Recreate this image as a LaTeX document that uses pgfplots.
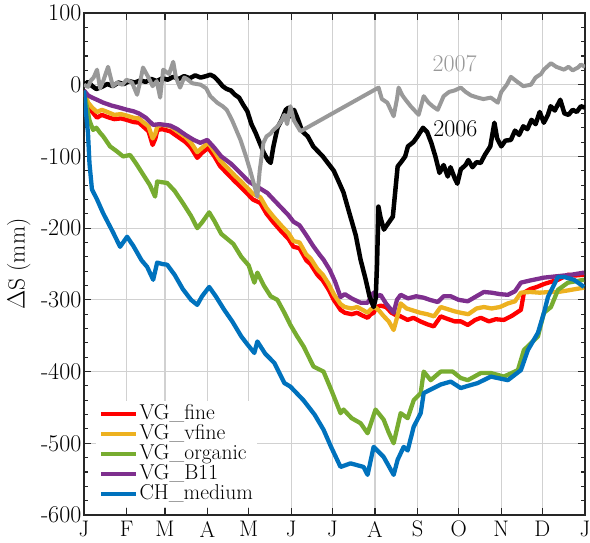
\documentclass[border=0pt]{standalone}
\usepackage{pgfplots}
\pgfplotsset{compat=1.18}
\definecolor{mRed}{rgb}{1,0,0}
\definecolor{mOrange}{rgb}{0.929,0.694,0.125}
\definecolor{mGreen}{rgb}{0.466,0.674,0.188}
\definecolor{mPurple}{rgb}{0.494,0.184,0.556}
\definecolor{mBlue}{rgb}{0,0.447,0.741}
\definecolor{mGray}{rgb}{0.6,0.6,0.6}
\definecolor{axc}{rgb}{0.15,0.15,0.15}
\begin{document}
\begin{tikzpicture}
\begin{axis}[
 scale only axis, width=501pt, height=502pt,
 xmin=0, xmax=365, ymin=-600, ymax=100,
 xtick={0,31,59,90,120,151,181,212,243,273,304,334,365},
 xticklabels={J,F,M,A,M,J,J,A,S,O,N,D,J},
 ytick={-600,-500,-400,-300,-200,-100,0,100},
 yticklabels={-600,-500,-400,-300,-200,-100,0,100},
 minor y tick num=4,
 grid=major,
 major grid style={color=black!18, line width=1.2pt},
 axis line style={line width=1.4pt, color=axc},
 major tick style={line width=1.2pt, color=axc},
 minor tick style={line width=1.1pt, color=axc},
 major tick length=7pt, minor tick length=4.5pt,
 tick align=inside,
 tick label style={font=\fontsize{24}{28}\selectfont, text=black, inner sep=0pt},
 x tick label style={yshift=-6pt, font=\fontsize{22.5}{26}\selectfont},
 y tick label style={xshift=-2.5pt},
 ylabel={$\Delta$S (mm)},
 ylabel style={at={(axis description cs:-0.13,0.5)}, anchor=center, font=\fontsize{23.5}{28}\selectfont},
 legend style={at={(0.024,0.015)}, anchor=south west, draw=none, fill=white, inner sep=3pt,
   font=\fontsize{21.5}{24}\selectfont, nodes={inner sep=1pt, text height=14pt, text depth=4pt}},
 legend cell align=left,
 legend image code/.code={\draw[#1] (0pt,0pt) -- (35pt,0pt);},
 every axis plot/.append style={line width=4.3pt, line join=round, mark=none},
]
\coordinate (SW) at (rel axis cs:0,0);
% VG_fine
\addplot[color=mRed] coordinates {(0,-8) (3,-30) (6,-38) (9.5,-46) (13,-42) (17,-45) (22,-48) (27,-47) (31,-49) (36,-52) (40,-53) (43,-58) (47,-65) (50,-84) (52,-75) (53.5,-63) (57,-62) (62.8,-65) (68,-72) (74,-80) (78,-88) (82.5,-102) (86,-95) (90.5,-88) (95,-100) (99.3,-114) (105,-125) (110,-135) (113.9,-142) (118,-150) (123,-160) (128.5,-165) (133,-180) (138,-192) (144,-205) (149,-215) (152.6,-226) (157,-228) (162,-245) (165,-250) (170,-265) (174,-273) (178,-285) (182,-300) (186.9,-314) (190,-318) (195,-320) (199,-318) (203,-322) (206.6,-325) (209,-320) (211,-318) (213,-310) (216,-308) (220,-310) (224,-318) (228,-322) (230.7,-323) (235.8,-328) (240,-325) (245,-330) (250,-334) (254.8,-337) (259.9,-323) (264,-326) (270,-330) (274.5,-330) (279.6,-335) (285,-328) (289.1,-325) (295,-330) (300,-327) (305.9,-328) (312,-322) (318.3,-314) (320.5,-290) (325,-285) (330,-282) (335,-278) (340,-275) (345.3,-272) (352.6,-265) (358,-266) (364.3,-265)};
\addlegendentry{VG\_fine}
% VG_vfine
\addplot[color=mOrange] coordinates {(0,-8) (3,-25) (6,-32) (9.5,-38) (13,-35) (17,-38) (22,-42) (27,-41) (31,-43) (36,-46) (40,-47) (43,-52) (47,-58) (50,-75) (52,-68) (53.5,-57) (57,-56) (62.8,-58) (68,-65) (74,-73) (78,-81) (82.5,-94) (86,-88) (90.5,-81) (95,-93) (99.3,-106) (105,-117) (110,-127) (113.9,-134) (118,-142) (123,-152) (128.5,-157) (133,-172) (138,-184) (144,-197) (149,-207) (152.6,-218) (157,-220) (162,-237) (165,-242) (170,-257) (174,-265) (178,-277) (182,-292) (186.9,-306) (190,-310) (195,-312) (199,-310) (203,-314) (206.6,-318) (209,-313) (212,-310) (215,-315) (218,-322) (222,-330) (225.6,-342) (228,-325) (230.7,-305) (235,-312) (240,-315) (245,-318) (250,-320) (255,-323) (259.9,-310) (265,-313) (270,-316) (274.5,-318) (280,-320) (286,-312) (291.3,-310) (297,-312) (303,-310) (308.8,-305) (314,-302) (318.3,-290) (325,-289) (332,-290) (340,-289) (345.3,-289) (352,-287) (358,-285) (364.3,-283)};
\addlegendentry{VG\_vfine}
% VG_organic
\addplot[color=mGreen] coordinates {(0,-8) (2,-30) (4,-50) (6.6,-63) (9,-60) (11.7,-67) (14,-72) (19,-86) (24,-93) (28.5,-100) (33.6,-98) (38,-110) (43,-125) (48,-140) (51.8,-156) (53.3,-135) (57,-136) (60.6,-137) (66,-148) (72,-165) (78,-183) (82.5,-200) (86,-192) (91.2,-178) (95,-190) (100,-208) (108.8,-222) (114.6,-240) (120,-252) (124.1,-276) (126.3,-262) (131,-280) (136,-295) (140.9,-300) (146,-318) (150.4,-335) (155,-350) (160,-365) (167.2,-393) (174.5,-400) (180,-425) (186.9,-458) (189.1,-453) (195,-465) (201.5,-472) (206.6,-486) (212.4,-453) (218.3,-467) (222,-485) (225.6,-500) (230.7,-458) (235.8,-465) (240.2,-440) (245.3,-430) (247.5,-400) (252.6,-412) (259.9,-400) (268.6,-400) (274.5,-409) (279.6,-412) (289.1,-402) (296.4,-402) (305.9,-407) (316.1,-398) (320.5,-370) (330.7,-351) (335.1,-318) (340.2,-310) (345.3,-286) (352.6,-276) (364.3,-272)};
\addlegendentry{VG\_organic}
% VG_B11
\addplot[color=mPurple] coordinates {(0,-8) (3,-15) (6,-18) (9.5,-21) (14,-25) (20,-29) (26,-32) (31.4,-35) (36,-37) (40,-40) (45,-46) (50.4,-56) (55,-55) (62.8,-57) (68,-62) (74,-70) (80,-77) (84.7,-81) (89.8,-77) (95,-88) (100,-100) (107,-110) (113.9,-123) (120,-135) (126,-142) (133.6,-151) (139,-162) (144,-172) (149,-182) (152.6,-191) (157,-196) (162,-210) (167,-225) (172,-238) (174.5,-244) (179,-258) (183,-275) (186.9,-296) (190,-292) (195,-298) (201.5,-304) (206.6,-304) (211,-290) (214,-295) (216.1,-293) (220,-305) (225.6,-318) (228,-300) (230.7,-293) (236,-298) (242,-295) (247.5,-297) (252,-300) (257.7,-303) (262,-295) (267.2,-295) (273,-300) (279.6,-302) (285,-296) (291.3,-289) (297,-290) (303,-292) (308.8,-293) (314,-288) (318.3,-276) (325,-273) (335.1,-269) (345,-267) (355,-265) (364.3,-262)};
\addlegendentry{VG\_B11}
% CH_medium
\addplot[color=mBlue] coordinates {(0,-8) (1.5,-40) (2.9,-67) (4,-110) (5.8,-146) (9.5,-160) (13.9,-179) (21.2,-206) (26.3,-226) (31.4,-212) (36,-225) (42,-245) (46,-254) (50.4,-272) (53.3,-248) (57,-250) (60.6,-251) (66,-265) (72,-285) (78,-300) (82.5,-307) (86,-295) (91.2,-282) (96,-295) (102.2,-314) (108,-330) (114.6,-351) (119,-362) (124.1,-374) (126.3,-358) (132,-375) (138.7,-388) (146,-416) (150.4,-421) (159.9,-440) (168,-460) (174.5,-481) (180,-505) (186.9,-533) (194.2,-528) (203.7,-533) (206.6,-544) (211,-505) (218.3,-519) (225.6,-544) (228.5,-523) (232.9,-505) (235.8,-510) (240.2,-477) (245.3,-458) (247.5,-430) (252.6,-425) (259.9,-418) (267.2,-414) (274.5,-423) (279.6,-420) (286.9,-416) (296.4,-407) (308.8,-412) (318.3,-398) (323.4,-370) (330.7,-346) (335.1,-318) (338,-296) (345.3,-268) (349.7,-268) (357,-272) (364.3,-282)};
\addlegendentry{CH\_medium}
% 2006
\addplot[color=black, line width=4.5pt, forget plot] coordinates {(0,0) (3,4) (6,-2) (9,-6) (13,-3) (17,1) (21,-2) (25,3) (29,1) (33,5) (37,3) (41,6) (45,4) (49,8) (53,5) (57,9) (61,7) (65,11) (69,8) (73,12) (77,9) (81,13) (85,10) (89,12) (92,14) (95,11) (98,5) (101,-2) (104,-6) (107,-8) (110,-14) (113,-18) (116,-28) (119,-37) (122,-55) (125,-67) (128,-81) (131,-95) (134,-105) (136,-109) (138,-86) (141,-60) (144,-49) (147,-35) (149,-32) (150.5,-44) (153,-35) (156,-49) (159,-65) (163,-72) (167,-86) (170,-92) (174,-100) (178,-110) (182,-120) (186,-137) (189,-150) (192,-170) (195,-190) (198,-210) (201.5,-244) (205,-270) (208,-295) (211,-310) (212.5,-298) (213.5,-250) (214.5,-170) (216,-185) (218.5,-202) (221,-195) (225,-184) (228.5,-114) (231,-108) (234,-100) (236,-86) (240,-80) (243,-72) (247,-60) (250,-66) (253,-81) (256,-100) (259,-123) (262,-112) (265,-128) (267,-115) (270,-130) (272,-138) (274.5,-118) (278,-112) (280,-105) (283,-115) (286,-108) (289,-109) (292,-98) (296,-86) (299,-53) (301,-75) (304,-86) (307,-78) (311,-77) (314,-64) (317,-70) (320,-58) (323,-62) (326,-49) (329,-55) (332,-38) (335,-53) (338,-42) (340,-30) (343,-36) (347,-21) (350,-40) (353,-42) (356,-35) (359,-38) (362,-30) (365,-32)};
% 2007
\addplot[color=mGray, line width=4pt, forget plot] coordinates {(0,0) (3,-3) (5,6) (7,10) (9.5,21) (11.7,-5) (14,5) (17.5,25) (21,-2) (24,3) (28,0) (31,7) (35,3) (38.7,-14) (41,5) (43,24) (47,10) (50,-2) (53,5) (55.5,-18) (57.7,21) (62,15) (65,32) (67,10) (70,-4) (73,10) (75,8) (79,2) (85,0) (89,-5) (92,-16) (97,-25) (101,-30) (104,-35) (108,-50) (114,-77) (118,-100) (121,-119) (124,-140) (126.3,-156) (128,-120) (130.7,-81) (133,-72) (136,-68) (138,-63) (141,-58) (144,-50) (146,-42) (148,-55) (150.4,-30) (153,-50) (157.7,-65) (214.6,-4) (217,-20) (221,-25) (225.6,-44) (228,-20) (229.2,-4) (232,-15) (234.3,-21) (238,-30) (243.8,-42) (247.5,-16) (251,-25) (254,-30) (257.7,-35) (262,-16) (266,-10) (270,-8) (274.5,-4) (278,-10) (282,-15) (286.9,-18) (291,-20) (296.4,-18) (301.5,-25) (304,-10) (308,0) (311,11) (315,5) (320,-2) (325.6,0) (329,10) (333,15) (335,21) (340.2,30) (344,25) (349.7,21) (353,25) (356,20) (359.9,24) (362,28) (365,25)};
\node[font=\fontsize{24}{28}\selectfont, text=mGray] at (axis cs:270,29) {2007};
\node[font=\fontsize{24}{28}\selectfont, text=black] at (axis cs:270.5,-61) {2006};
\end{axis}
\pgfresetboundingbox
\path[use as bounding box] (SW) ++(-84pt,-27pt) rectangle ++(590pt,542pt);
\end{tikzpicture}
\end{document}
